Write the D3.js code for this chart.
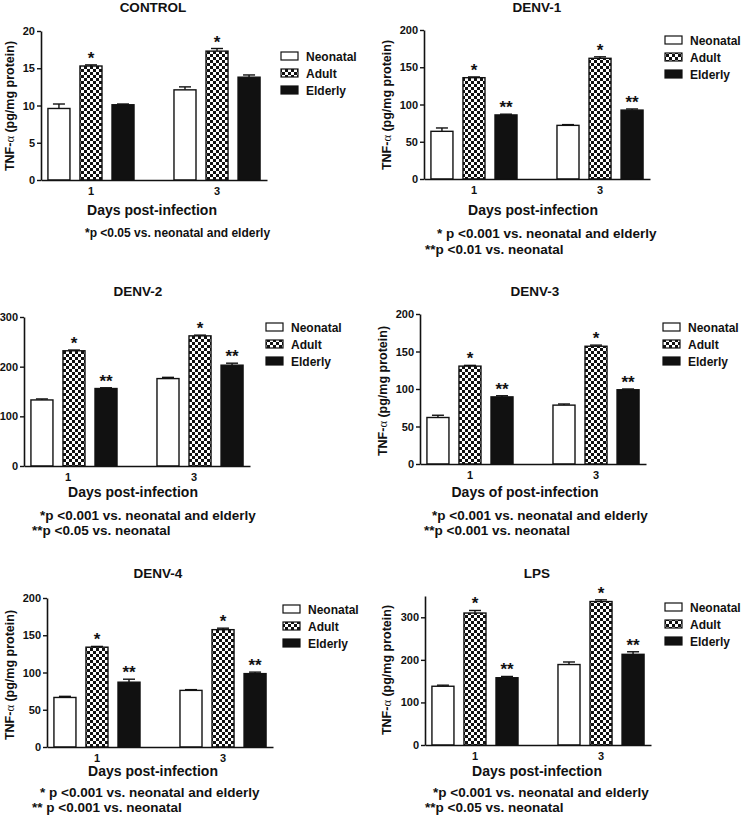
<!DOCTYPE html>
<html>
<head>
<meta charset="utf-8">
<script src="https://cdn.jsdelivr.net/npm/d3@7"></script>
<style>
  body { margin: 0; background: #fff; }
  svg text { font-family: "Liberation Sans", Arial, sans-serif; font-weight: bold; fill: #111; }
</style>
</head>
<body>
<svg id="chart" width="741" height="816"></svg>
<script>
// ---- data ----
const days = ["1", "3"];
const groups = ["Neonatal", "Adult", "Elderly"];
const panelNames = ["CONTROL", "DENV-1", "DENV-2", "DENV-3", "DENV-4", "LPS"];

// TNF-a per panel, [day 1, day 3]
const neonatal = [[9.6, 12.1], [64, 72], [133, 176], [62, 78.5], [66.5, 76], [138, 189]];
const adult    = [[15.3, 17.3], [136, 162], [232, 262], [130.5, 157], [134, 157.5], [310, 337]];
const elderly  = [[10.1, 13.8], [86, 92.5], [156, 203], [89.5, 99], [87, 98.5], [158, 213]];

// error bars (upper only)
const neonatalErr = [[0.6, 0.4], [4.5, 1], [2, 2.5], [3, 1.5], [1.5, 1], [2.5, 6]];
const adultErr    = [[0.15, 0.35], [1, 2], [1.5, 1.5], [1, 1.5], [1, 2], [6, 4]];
const elderlyErr  = [[0.1, 0.3], [1, 1.5], [1.5, 4], [1.5, 1], [4, 2], [3, 6]];

// significance marks
const adultSig   = ["*", "*", "*", "*", "*", "*"];
const elderlySig = ["", "**", "**", "**", "**", "**"];

const yMax = [20, 200, 300, 200, 200, 350];
const yTicks = [
  [0, 5, 10, 15, 20],
  [0, 50, 100, 150, 200],
  [0, 100, 200, 300],
  [0, 50, 100, 150, 200],
  [0, 50, 100, 150, 200],
  [0, 100, 200, 300]
];
const xTitles = ["Days post-infection", "Days post-infection", "Days post-infection",
                 "Days of post-infection", "Days post-infection", "Days post-infection"];
const yTitles = [true, true, false, true, true, true];
const notes = [
  ["*p <0.05 vs. neonatal and elderly"],
  ["* p <0.001 vs. neonatal and elderly", "**p <0.01 vs. neonatal"],
  ["*p <0.001 vs. neonatal and elderly", "**p <0.05 vs. neonatal"],
  ["*p <0.001 vs. neonatal and elderly", "**p <0.001 vs. neonatal"],
  ["* p <0.001 vs. neonatal and elderly", "** p <0.001 vs. neonatal"],
  ["*p <0.001 vs. neonatal and elderly", "**p <0.05 vs. neonatal"]
];

// ---- layout of each panel on the page ----
const layout = [
  {ax: 41,  top: 31,  base: 180, title: [153, 12],  xt: [152, 215], shift: 0,  yl: [14, 106],  leg: [281, 56],  notes: [[85, 237]], noteSize: 12},
  {ax: 424, top: 30,  base: 179, title: [537, 12],  xt: [533, 215], shift: 0,  yl: [391, 105], leg: [665, 40],  notes: [[437, 238], [425, 254]], noteSize: 13.5},
  {ax: 24,  top: 317, base: 466, title: [138, 296], xt: [133, 497], shift: -6, yl: null,       leg: [266, 327], notes: [[40, 520], [32, 535]], noteSize: 13.5},
  {ax: 420, top: 314, base: 464, title: [535, 296], xt: [525, 497], shift: 0,  yl: [387, 391], leg: [663, 327], notes: [[432, 520], [424, 535]], noteSize: 13.5},
  {ax: 47,  top: 598, base: 747, title: [158, 578], xt: [153, 776], shift: 0,  yl: [14, 675],  leg: [283, 609], notes: [[40, 797], [32, 812]], noteSize: 13.5},
  {ax: 425, top: 596, base: 745, title: [537, 578], xt: [537, 776], shift: 0,  yl: [391, 670], leg: [665, 607], notes: [[433, 797], [425, 812]], noteSize: 13.5}
];
const axisWidth = 226;

const svg = d3.select("#chart");

// checker pattern for the Adult bars
const defs = svg.append("defs");
const pat = defs.append("pattern")
  .attr("id", "checker")
  .attr("patternUnits", "userSpaceOnUse")
  .attr("width", 6).attr("height", 6);
pat.append("rect").attr("width", 6).attr("height", 6).attr("fill", "#fff");
pat.append("rect").attr("width", 3).attr("height", 3).attr("fill", "#111");
pat.append("rect").attr("x", 3).attr("y", 3).attr("width", 3).attr("height", 3).attr("fill", "#111");

const fills = {Neonatal: "#fff", Adult: "url(#checker)", Elderly: "#111"};

panelNames.forEach(function (name, p) {
  const L = layout[p];
  const g = svg.append("g");

  const x0 = d3.scaleBand().domain(days)
    .range([L.ax, L.ax + axisWidth])
    .paddingInner(0.317).paddingOuter(0.055);
  const x1 = d3.scaleBand().domain(groups)
    .range([0, x0.bandwidth()])
    .paddingInner(0.3125);
  const y = d3.scaleLinear().domain([0, yMax[p]]).range([L.base, L.top]);

  const series = {
    Neonatal: {v: neonatal[p], e: neonatalErr[p], sig: ""},
    Adult:    {v: adult[p],    e: adultErr[p],    sig: adultSig[p]},
    Elderly:  {v: elderly[p],  e: elderlyErr[p],  sig: elderlySig[p]}
  };

  const rows = [];
  days.forEach(function (d, i) {
    groups.forEach(function (k) {
      rows.push({day: d, group: k, value: series[k].v[i], err: series[k].e[i], sig: series[k].sig});
    });
  });

  // error bars (drawn first so bar outline sits on top)
  const eb = g.selectAll(".err").data(rows).enter().append("g");
  eb.append("line")
    .attr("x1", d => x0(d.day) + x1(d.group) + x1.bandwidth() / 2)
    .attr("x2", d => x0(d.day) + x1(d.group) + x1.bandwidth() / 2)
    .attr("y1", d => y(d.value))
    .attr("y2", d => y(d.value + d.err))
    .attr("stroke", "#111").attr("stroke-width", 1.4);
  eb.append("line")
    .attr("x1", d => x0(d.day) + x1(d.group) + x1.bandwidth() / 2 - 6)
    .attr("x2", d => x0(d.day) + x1(d.group) + x1.bandwidth() / 2 + 6)
    .attr("y1", d => y(d.value + d.err))
    .attr("y2", d => y(d.value + d.err))
    .attr("stroke", "#111").attr("stroke-width", 1.4);

  // bars
  g.selectAll(".bar").data(rows).enter().append("rect")
    .attr("x", d => x0(d.day) + x1(d.group))
    .attr("y", d => y(d.value))
    .attr("width", x1.bandwidth())
    .attr("height", d => L.base - y(d.value))
    .attr("fill", d => fills[d.group])
    .attr("stroke", "#111").attr("stroke-width", 1.4);

  // significance stars
  g.selectAll(".sig").data(rows.filter(d => d.sig)).enter().append("text")
    .attr("x", d => x0(d.day) + x1(d.group) + x1.bandwidth() / 2)
    .attr("y", d => y(d.value + d.err) - 1)
    .attr("text-anchor", "middle")
    .style("font-size", "17px")
    .text(d => d.sig);

  // y axis
  const yAxis = g.append("g")
    .attr("transform", "translate(" + L.ax + ",0)")
    .call(d3.axisLeft(y).tickValues(yTicks[p]).tickSize(4).tickSizeOuter(0).tickPadding(2).tickFormat(d3.format("d")));
  yAxis.select(".domain").attr("stroke", "#111").attr("stroke-width", 1.6);
  yAxis.selectAll(".tick line").attr("stroke", "#111").attr("stroke-width", 1.4);
  yAxis.selectAll(".tick text").style("font-size", "11px").style("font-family", "'Liberation Sans', Arial, sans-serif").attr("fill", "#111");

  // x axis
  const xAxis = g.append("g")
    .attr("transform", "translate(0," + L.base + ")")
    .call(d3.axisBottom(x0).tickSize(0).tickSizeOuter(0).tickPadding(7));
  xAxis.select(".domain").attr("stroke", "#111").attr("stroke-width", 1.6);
  xAxis.selectAll(".tick text").style("font-size", "11px").style("font-family", "'Liberation Sans', Arial, sans-serif").attr("fill", "#111")
    .attr("dx", L.shift);

  // titles
  g.append("text").attr("x", L.title[0]).attr("y", L.title[1])
    .attr("text-anchor", "middle").style("font-size", "13.5px").text(name);
  g.append("text").attr("x", L.xt[0]).attr("y", L.xt[1])
    .attr("text-anchor", "middle").style("font-size", "14px").text(xTitles[p]);

  if (yTitles[p] && L.yl) {
    const yt = g.append("text")
      .attr("transform", "translate(" + L.yl[0] + "," + L.yl[1] + ") rotate(-90)")
      .attr("text-anchor", "middle").style("font-size", "12.5px");
    yt.append("tspan").text("TNF-");
    yt.append("tspan").text("\u03b1")
      .style("font-family", "'Liberation Serif', 'DejaVu Serif', serif").style("font-weight", "normal");
    yt.append("tspan").text(" (pg/mg protein)");
  }

  // legend
  const leg = g.append("g");
  groups.forEach(function (k, i) {
    const cy = L.leg[1] + i * 17;
    leg.append("rect").attr("x", L.leg[0]).attr("y", cy - 4)
      .attr("width", 17).attr("height", 8)
      .attr("fill", fills[k]).attr("stroke", "#111").attr("stroke-width", 1.2);
    leg.append("text").attr("x", L.leg[0] + 25).attr("y", cy + 4.5)
      .style("font-size", "12px").text(k);
  });

  // footnotes
  notes[p].forEach(function (t, i) {
    g.append("text").attr("x", L.notes[i][0]).attr("y", L.notes[i][1])
      .style("font-size", L.noteSize + "px").text(t);
  });
});
</script>
</body>
</html>
